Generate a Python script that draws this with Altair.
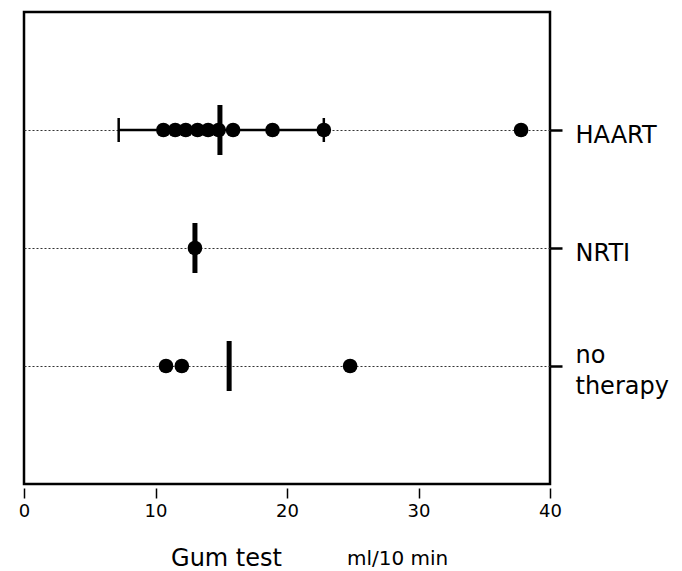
import altair as alt
import pandas as pd

# ---- data ----
group_order = ["HAART", "NRTI", "no therapy"]

haart_values = [10.6, 11.5, 12.3, 13.2, 14.0, 14.8, 15.9, 18.9, 22.8, 37.8]
nrti_values = [13.0]
no_therapy_values = [10.8, 12.0, 24.8]

summary_groups = ["HAART", "NRTI", "no therapy"]
summary_values = [14.9, 13.0, 15.6]

error_groups = ["HAART"]
error_low = [7.2]
error_high = [22.8]

x_ticks = [0, 10, 20, 30, 40]

points = pd.DataFrame({
    "group": ["HAART"] * len(haart_values) + ["NRTI"] * len(nrti_values)
    + ["no therapy"] * len(no_therapy_values),
    "value": haart_values + nrti_values + no_therapy_values,
})
summary = pd.DataFrame({"group": summary_groups, "value": summary_values})
errors = pd.DataFrame({"group": error_groups, "low": error_low, "high": error_high})

FONT = "DejaVu Sans"

x_scale = alt.Scale(domain=[0, 40], nice=False, zero=False)
y_scale = alt.Scale(type="point", domain=group_order, padding=1)

x_axis = alt.Axis(
    values=x_ticks, domain=False, grid=False, offset=4,
    tickSize=10, tickColor="black", tickWidth=1.5,
    labelFont=FONT, labelFontSize=18, labelColor="black", labelPadding=4,
    labelFlush=False,
    title="Gum test", titleFont=FONT, titleFontSize=24, titleFontWeight="normal",
    titleColor="black", titleX=202, titleY=77, titleAlign="center",
    titleBaseline="alphabetic",
)
y_axis = alt.Axis(
    orient="right", domain=False, grid=True, gridDash=[2, 2], gridColor="#333",
    gridWidth=1, tickSize=12, tickColor="black", tickWidth=2.5,
    labelFont=FONT, labelFontSize=24, labelColor="black", labelPadding=13,
    labelAlign="left", labelBaseline="middle", labelLineHeight=31,
    labelOffset={"condition": {"test": "datum.value == 'no therapy'", "value": -11}, "value": 5},
    labelExpr="datum.value == 'no therapy' ? ['no', 'therapy'] : datum.value",
    title=None,
)

err_rule = alt.Chart(errors).mark_rule(color="black", strokeWidth=2.5).encode(
    x=alt.X("low:Q", scale=x_scale, axis=x_axis),
    x2="high:Q",
    y=alt.Y("group:N", scale=y_scale, axis=y_axis, sort=group_order),
)
err_low_cap = alt.Chart(errors).mark_tick(color="black", size=24, thickness=2.5, opacity=1).encode(
    x=alt.X("low:Q", scale=x_scale),
    y=alt.Y("group:N", scale=y_scale, sort=group_order),
)
err_high_cap = alt.Chart(errors).mark_tick(color="black", size=24, thickness=2.5, opacity=1).encode(
    x=alt.X("high:Q", scale=x_scale),
    y=alt.Y("group:N", scale=y_scale, sort=group_order),
)
dots = alt.Chart(points).mark_circle(color="black", size=215, opacity=1).encode(
    x=alt.X("value:Q", scale=x_scale),
    y=alt.Y("group:N", scale=y_scale, sort=group_order),
)
bars = alt.Chart(summary).mark_tick(color="black", size=50, thickness=5, opacity=1).encode(
    x=alt.X("value:Q", scale=x_scale),
    y=alt.Y("group:N", scale=y_scale, sort=group_order),
)
unit = alt.Chart(pd.DataFrame({"t": ["ml/10 min"]})).mark_text(
    font=FONT, fontSize=20, color="black", align="left", baseline="alphabetic"
).encode(text="t:N", x=alt.value(323), y=alt.value(553))

chart = alt.layer(err_rule, err_low_cap, err_high_cap, dots, bars, unit).properties(
    width=526, height=472,
    autosize=alt.AutoSizeParams(type="none"),
    padding={"left": 24, "top": 12, "right": 132, "bottom": 87},
).configure(
    background="white",
    view=alt.ViewConfig(stroke="black", strokeWidth=2.5),
)

chart.save("out.html", embed_options={"renderer": "svg", "actions": False})
